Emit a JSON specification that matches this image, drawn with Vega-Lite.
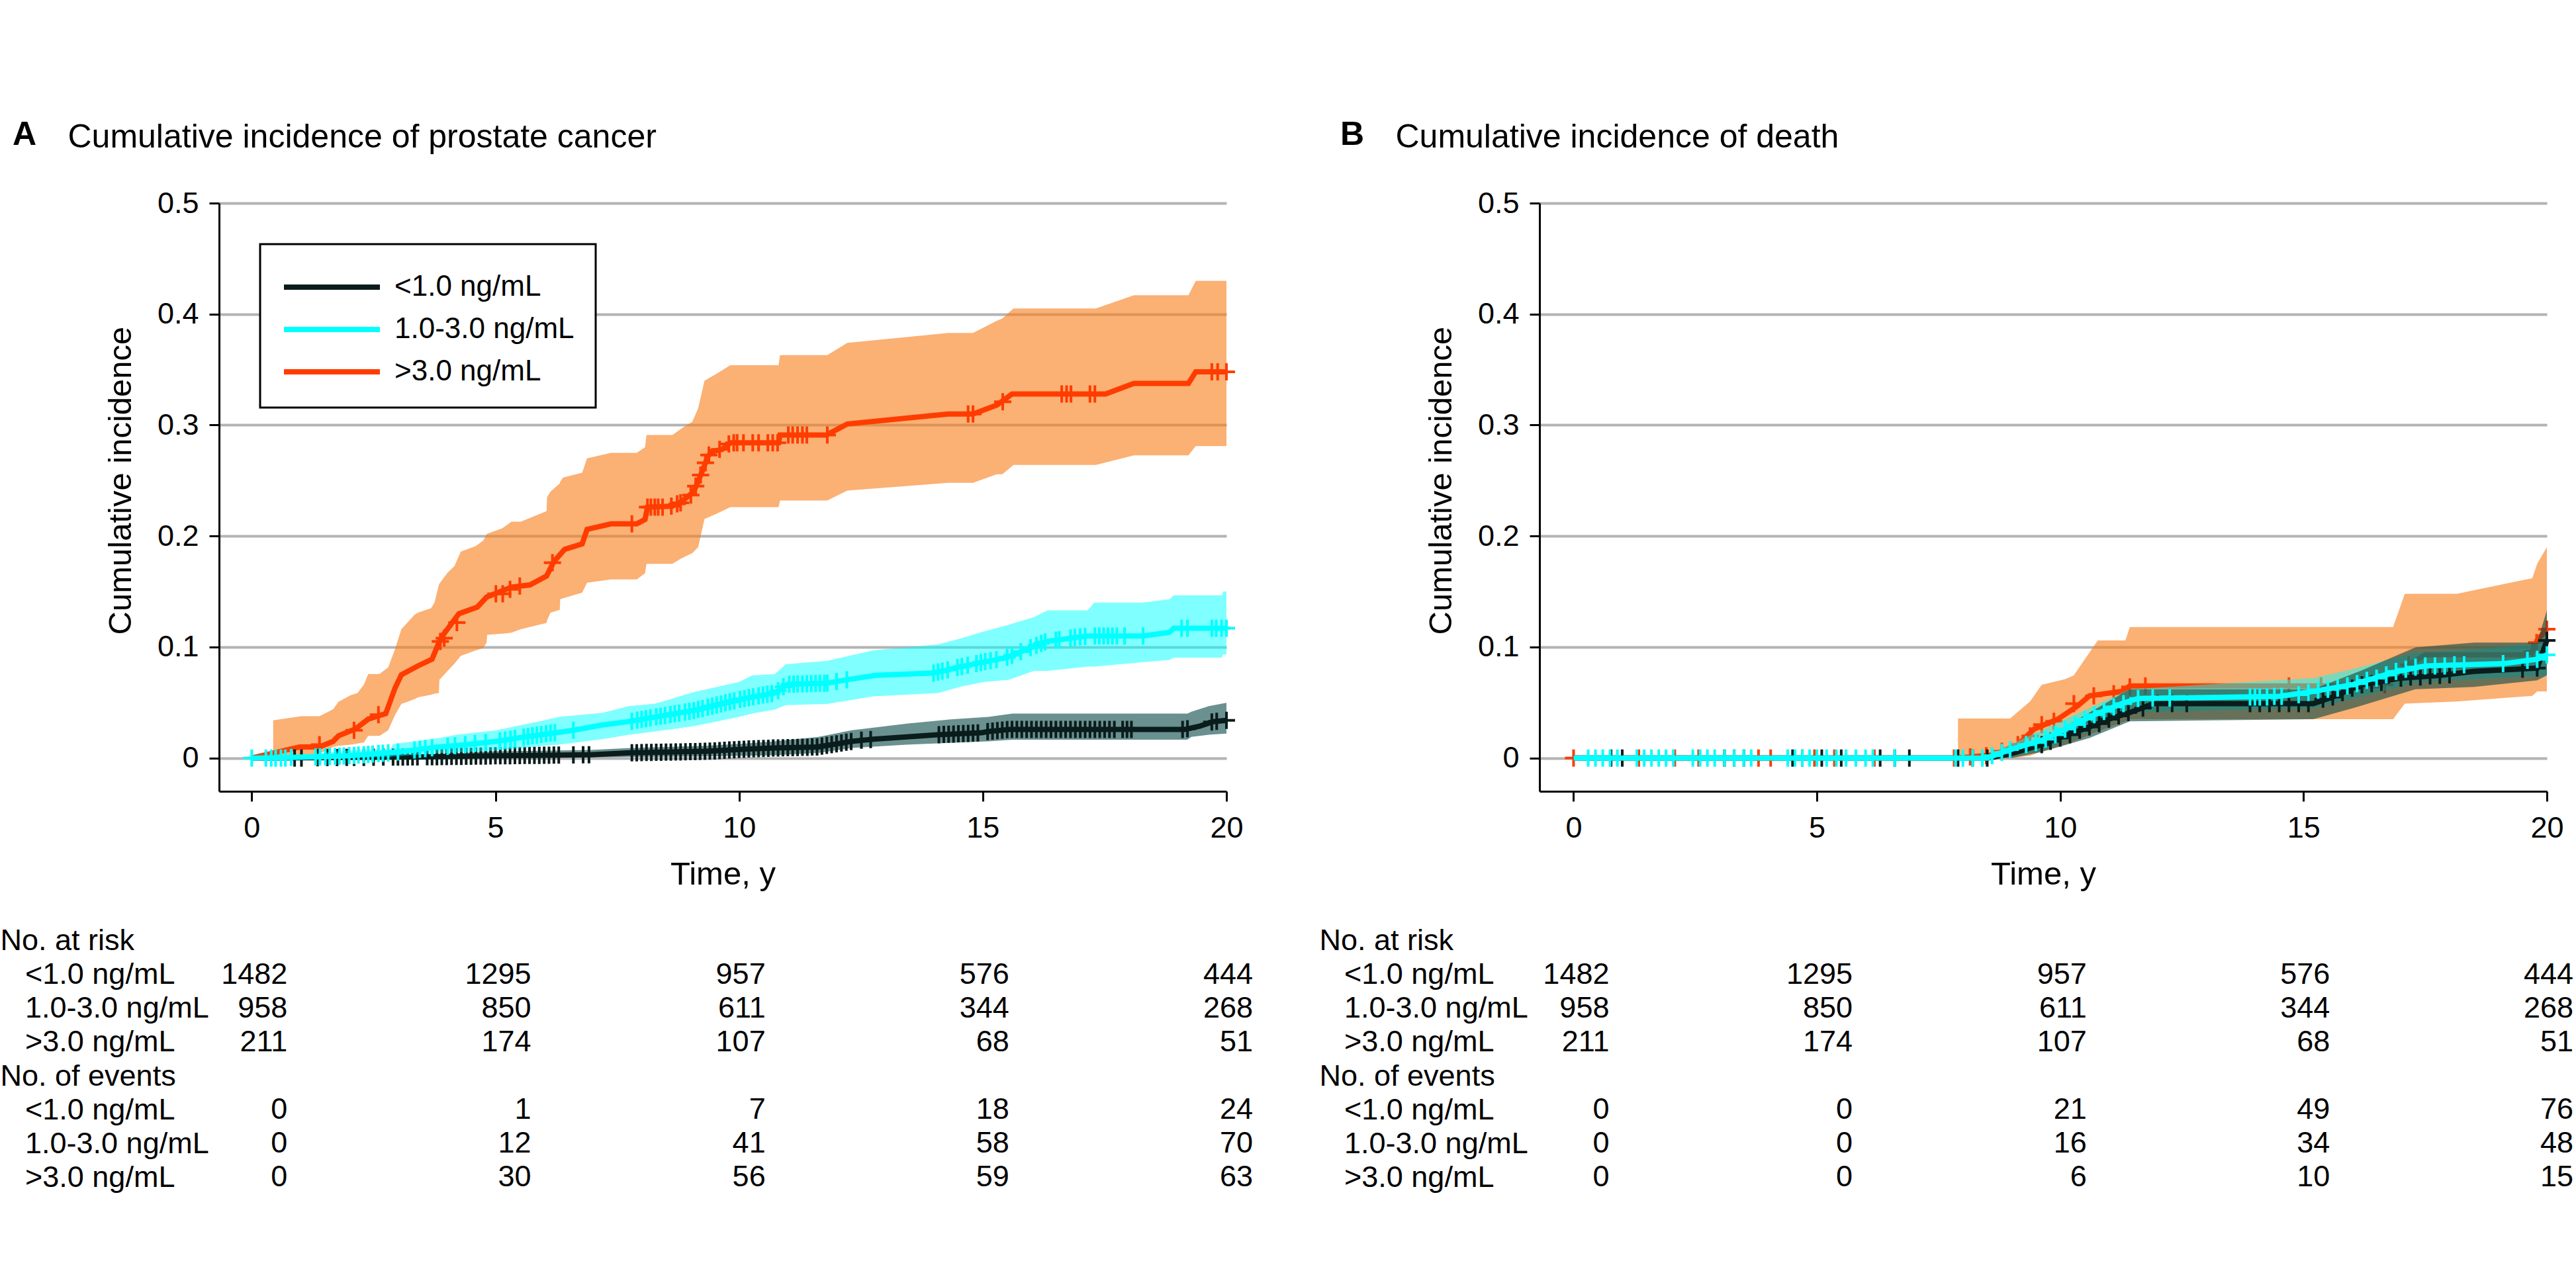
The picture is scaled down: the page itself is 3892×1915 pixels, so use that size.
{
  "$schema": "https://vega.github.io/schema/vega-lite/v6.json",
  "autosize": {"type": "pad"},
  "padding": {"left": 0, "top": 179, "right": 20, "bottom": 20},
  "background": "white",
  "config": {
    "font": "Liberation Sans",
    "view": {"stroke": null},
    "axis": {"domainColor": "black", "domainWidth": 3, "tickColor": "black", "tickWidth": 3, "tickSize": 15, "labelFontSize": 45, "labelColor": "black", "titleFontSize": 49, "titleFontWeight": "normal", "titleColor": "black", "gridColor": "#b3b3b3", "gridWidth": 4, "labelFont": "Liberation Sans", "titleFont": "Liberation Sans"},
    "legend": {"strokeWidth": 3},
    "title": {"font": "Liberation Sans"},
    "text": {"font": "Liberation Sans"}
  },
  "datasets": {
    "lineA": [
      {"g":">3.0 ng/mL","t":0,"v":0},{"g":">3.0 ng/mL","t":0.99,"v":0.01},{"g":">3.0 ng/mL","t":1.39,"v":0.01},{"g":">3.0 ng/mL","t":1.67,"v":0.015},{"g":">3.0 ng/mL","t":1.78,"v":0.02},{"g":">3.0 ng/mL","t":2.12,"v":0.026},{"g":">3.0 ng/mL","t":2.39,"v":0.035},{"g":">3.0 ng/mL","t":2.75,"v":0.04},{"g":">3.0 ng/mL","t":2.94,"v":0.063},{"g":">3.0 ng/mL","t":3.07,"v":0.075},{"g":">3.0 ng/mL","t":3.41,"v":0.083},{"g":">3.0 ng/mL","t":3.7,"v":0.089},{"g":">3.0 ng/mL","t":3.85,"v":0.105},{"g":">3.0 ng/mL","t":3.93,"v":0.111},{"g":">3.0 ng/mL","t":4.25,"v":0.13},{"g":">3.0 ng/mL","t":4.63,"v":0.136},{"g":">3.0 ng/mL","t":4.82,"v":0.145},{"g":">3.0 ng/mL","t":5.33,"v":0.154},{"g":">3.0 ng/mL","t":5.71,"v":0.156},{"g":">3.0 ng/mL","t":6.05,"v":0.164},{"g":">3.0 ng/mL","t":6.2,"v":0.177},{"g":">3.0 ng/mL","t":6.42,"v":0.188},{"g":">3.0 ng/mL","t":6.78,"v":0.193},{"g":">3.0 ng/mL","t":6.88,"v":0.206},{"g":">3.0 ng/mL","t":7.37,"v":0.211},{"g":">3.0 ng/mL","t":7.9,"v":0.211},{"g":">3.0 ng/mL","t":8.07,"v":0.215},{"g":">3.0 ng/mL","t":8.12,"v":0.226},{"g":">3.0 ng/mL","t":8.63,"v":0.227},{"g":">3.0 ng/mL","t":8.82,"v":0.231},{"g":">3.0 ng/mL","t":9.07,"v":0.24},{"g":">3.0 ng/mL","t":9.26,"v":0.26},{"g":">3.0 ng/mL","t":9.35,"v":0.271},{"g":">3.0 ng/mL","t":9.43,"v":0.276},{"g":">3.0 ng/mL","t":9.65,"v":0.278},{"g":">3.0 ng/mL","t":9.82,"v":0.284},{"g":">3.0 ng/mL","t":10.81,"v":0.284},{"g":">3.0 ng/mL","t":10.84,"v":0.291},{"g":">3.0 ng/mL","t":11.79,"v":0.291},{"g":">3.0 ng/mL","t":12.22,"v":0.301},{"g":">3.0 ng/mL","t":14.29,"v":0.31},{"g":">3.0 ng/mL","t":14.8,"v":0.31},{"g":">3.0 ng/mL","t":15.29,"v":0.318},{"g":">3.0 ng/mL","t":15.6,"v":0.328},{"g":">3.0 ng/mL","t":17.52,"v":0.328},{"g":">3.0 ng/mL","t":18.1,"v":0.3375},{"g":">3.0 ng/mL","t":19.22,"v":0.3375},{"g":">3.0 ng/mL","t":19.37,"v":0.348},{"g":">3.0 ng/mL","t":20,"v":0.348},
      {"g":"<1.0 ng/mL","t":0,"v":0},{"g":"<1.0 ng/mL","t":2,"v":0.0005},{"g":"<1.0 ng/mL","t":3.5,"v":0.001},{"g":"<1.0 ng/mL","t":5.02,"v":0.002},{"g":"<1.0 ng/mL","t":6.96,"v":0.003},{"g":"<1.0 ng/mL","t":7.78,"v":0.0047},{"g":"<1.0 ng/mL","t":9.32,"v":0.006},{"g":"<1.0 ng/mL","t":10.14,"v":0.008},{"g":"<1.0 ng/mL","t":10.73,"v":0.009},{"g":"<1.0 ng/mL","t":11.63,"v":0.01},{"g":"<1.0 ng/mL","t":12.31,"v":0.015},{"g":"<1.0 ng/mL","t":12.75,"v":0.0169},{"g":"<1.0 ng/mL","t":13.44,"v":0.019},{"g":"<1.0 ng/mL","t":14.08,"v":0.021},{"g":"<1.0 ng/mL","t":14.98,"v":0.0228},{"g":"<1.0 ng/mL","t":15.1,"v":0.0238},{"g":"<1.0 ng/mL","t":15.55,"v":0.0258},{"g":"<1.0 ng/mL","t":19.15,"v":0.0258},{"g":"<1.0 ng/mL","t":19.46,"v":0.0288},{"g":"<1.0 ng/mL","t":19.73,"v":0.0328},{"g":"<1.0 ng/mL","t":20,"v":0.034},
      {"g":"1.0-3.0 ng/mL","t":0,"v":0},{"g":"1.0-3.0 ng/mL","t":0.8,"v":0.0005},{"g":"1.0-3.0 ng/mL","t":1.3,"v":0.001},{"g":"1.0-3.0 ng/mL","t":2,"v":0.002},{"g":"1.0-3.0 ng/mL","t":2.9,"v":0.005},{"g":"1.0-3.0 ng/mL","t":3.3,"v":0.007},{"g":"1.0-3.0 ng/mL","t":3.84,"v":0.01},{"g":"1.0-3.0 ng/mL","t":4.4,"v":0.012},{"g":"1.0-3.0 ng/mL","t":5.02,"v":0.015},{"g":"1.0-3.0 ng/mL","t":5.6,"v":0.019},{"g":"1.0-3.0 ng/mL","t":6.24,"v":0.0228},{"g":"1.0-3.0 ng/mL","t":6.6,"v":0.025},{"g":"1.0-3.0 ng/mL","t":7.19,"v":0.0298},{"g":"1.0-3.0 ng/mL","t":7.74,"v":0.0328},{"g":"1.0-3.0 ng/mL","t":8.28,"v":0.037},{"g":"1.0-3.0 ng/mL","t":9.09,"v":0.043},{"g":"1.0-3.0 ng/mL","t":10,"v":0.0526},{"g":"1.0-3.0 ng/mL","t":10.73,"v":0.0586},{"g":"1.0-3.0 ng/mL","t":11,"v":0.0665},{"g":"1.0-3.0 ng/mL","t":11.81,"v":0.0675},{"g":"1.0-3.0 ng/mL","t":12.22,"v":0.0705},{"g":"1.0-3.0 ng/mL","t":12.8,"v":0.0745},{"g":"1.0-3.0 ng/mL","t":13.99,"v":0.0765},{"g":"1.0-3.0 ng/mL","t":14.57,"v":0.0824},{"g":"1.0-3.0 ng/mL","t":14.8,"v":0.0845},{"g":"1.0-3.0 ng/mL","t":15.25,"v":0.0884},{"g":"1.0-3.0 ng/mL","t":15.48,"v":0.0904},{"g":"1.0-3.0 ng/mL","t":15.85,"v":0.097},{"g":"1.0-3.0 ng/mL","t":16.3,"v":0.105},{"g":"1.0-3.0 ng/mL","t":17.15,"v":0.11},{"g":"1.0-3.0 ng/mL","t":18.29,"v":0.11},{"g":"1.0-3.0 ng/mL","t":18.83,"v":0.1132},{"g":"1.0-3.0 ng/mL","t":18.92,"v":0.117},{"g":"1.0-3.0 ng/mL","t":20,"v":0.117}
    ],
    "bandA": [
      {"g":"o","t":0.44,"lo":0,"hi":0.034},{"g":"o","t":1.01,"lo":0.002,"hi":0.0377},{"g":"o","t":1.39,"lo":0.004,"hi":0.0377},{"g":"o","t":1.67,"lo":0.01,"hi":0.044},{"g":"o","t":1.78,"lo":0.011,"hi":0.0506},{"g":"o","t":2.03,"lo":0.012,"hi":0.0566},{"g":"o","t":2.17,"lo":0.013,"hi":0.0586},{"g":"o","t":2.3,"lo":0.0139,"hi":0.066},{"g":"o","t":2.39,"lo":0.0199,"hi":0.0757},{"g":"o","t":2.62,"lo":0.0199,"hi":0.0757},{"g":"o","t":2.8,"lo":0.025,"hi":0.0816},{"g":"o","t":2.94,"lo":0.0387,"hi":0.098},{"g":"o","t":3.07,"lo":0.0487,"hi":0.116},{"g":"o","t":3.34,"lo":0.053,"hi":0.129},{"g":"o","t":3.41,"lo":0.0546,"hi":0.131},{"g":"o","t":3.68,"lo":0.057,"hi":0.135},{"g":"o","t":3.75,"lo":0.058,"hi":0.14},{"g":"o","t":3.84,"lo":0.0586,"hi":0.156},{"g":"o","t":3.85,"lo":0.0705,"hi":0.157},{"g":"o","t":4.02,"lo":0.0785,"hi":0.167},{"g":"o","t":4.16,"lo":0.085,"hi":0.173},{"g":"o","t":4.29,"lo":0.092,"hi":0.186},{"g":"o","t":4.6,"lo":0.097,"hi":0.191},{"g":"o","t":4.75,"lo":0.099,"hi":0.196},{"g":"o","t":4.82,"lo":0.104,"hi":0.2016},{"g":"o","t":4.83,"lo":0.111,"hi":0.202},{"g":"o","t":5.14,"lo":0.112,"hi":0.207},{"g":"o","t":5.33,"lo":0.113,"hi":0.213},{"g":"o","t":5.52,"lo":0.116,"hi":0.213},{"g":"o","t":6.05,"lo":0.1217,"hi":0.2225},{"g":"o","t":6.06,"lo":0.124,"hi":0.235},{"g":"o","t":6.13,"lo":0.131,"hi":0.24},{"g":"o","t":6.32,"lo":0.1335,"hi":0.2473},{"g":"o","t":6.33,"lo":0.143,"hi":0.249},{"g":"o","t":6.39,"lo":0.144,"hi":0.2527},{"g":"o","t":6.78,"lo":0.149,"hi":0.257},{"g":"o","t":6.88,"lo":0.158,"hi":0.27},{"g":"o","t":7.37,"lo":0.161,"hi":0.275},{"g":"o","t":7.9,"lo":0.161,"hi":0.275},{"g":"o","t":8.07,"lo":0.1665,"hi":0.28},{"g":"o","t":8.1,"lo":0.175,"hi":0.291},{"g":"o","t":8.63,"lo":0.175,"hi":0.291},{"g":"o","t":8.82,"lo":0.18,"hi":0.297},{"g":"o","t":9.04,"lo":0.1846,"hi":0.303},{"g":"o","t":9.16,"lo":0.19,"hi":0.315},{"g":"o","t":9.29,"lo":0.2154,"hi":0.34},{"g":"o","t":9.53,"lo":0.22,"hi":0.346},{"g":"o","t":9.82,"lo":0.226,"hi":0.354},{"g":"o","t":10.81,"lo":0.226,"hi":0.354},{"g":"o","t":10.84,"lo":0.232,"hi":0.363},{"g":"o","t":11.81,"lo":0.232,"hi":0.363},{"g":"o","t":12.22,"lo":0.241,"hi":0.374},{"g":"o","t":14.29,"lo":0.248,"hi":0.383},{"g":"o","t":14.8,"lo":0.248,"hi":0.383},{"g":"o","t":15.29,"lo":0.2557,"hi":0.394},{"g":"o","t":15.4,"lo":0.2557,"hi":0.396},{"g":"o","t":15.63,"lo":0.264,"hi":0.405},{"g":"o","t":17.32,"lo":0.264,"hi":0.405},{"g":"o","t":18.1,"lo":0.2727,"hi":0.417},{"g":"o","t":19.22,"lo":0.2727,"hi":0.417},{"g":"o","t":19.37,"lo":0.281,"hi":0.43},{"g":"o","t":20,"lo":0.281,"hi":0.43},
      {"g":"c","t":0.5,"lo":0,"hi":0.002},{"g":"c","t":1.3,"lo":0,"hi":0.004},{"g":"c","t":2,"lo":0.0003,"hi":0.007},{"g":"c","t":2.85,"lo":0.001,"hi":0.008},{"g":"c","t":2.9,"lo":0.0015,"hi":0.0125},{"g":"c","t":3.84,"lo":0.0045,"hi":0.018},{"g":"c","t":4.2,"lo":0.005,"hi":0.021},{"g":"c","t":5.02,"lo":0.0066,"hi":0.025},{"g":"c","t":6,"lo":0.011,"hi":0.034},{"g":"c","t":6.3,"lo":0.012,"hi":0.037},{"g":"c","t":7.19,"lo":0.0169,"hi":0.0407},{"g":"c","t":7.74,"lo":0.021,"hi":0.0467},{"g":"c","t":8.28,"lo":0.024,"hi":0.049},{"g":"c","t":9.09,"lo":0.0288,"hi":0.0596},{"g":"c","t":10,"lo":0.037,"hi":0.0685},{"g":"c","t":10.27,"lo":0.04,"hi":0.0745},{"g":"c","t":10.73,"lo":0.0437,"hi":0.0755},{"g":"c","t":10.96,"lo":0.0477,"hi":0.0845},{"g":"c","t":11.81,"lo":0.0487,"hi":0.0876},{"g":"c","t":12.75,"lo":0.0556,"hi":0.097},{"g":"c","t":14.08,"lo":0.0586,"hi":0.1023},{"g":"c","t":14.57,"lo":0.0645,"hi":0.108},{"g":"c","t":15.03,"lo":0.0685,"hi":0.1142},{"g":"c","t":15.53,"lo":0.0705,"hi":0.12},{"g":"c","t":16.05,"lo":0.0785,"hi":0.127},{"g":"c","t":16.33,"lo":0.0785,"hi":0.133},{"g":"c","t":17.15,"lo":0.0824,"hi":0.133},{"g":"c","t":17.29,"lo":0.0824,"hi":0.14},{"g":"c","t":18.29,"lo":0.0864,"hi":0.14},{"g":"c","t":18.83,"lo":0.0884,"hi":0.143},{"g":"c","t":18.92,"lo":0.0904,"hi":0.1466},{"g":"c","t":19.91,"lo":0.0904,"hi":0.1466},{"g":"c","t":19.93,"lo":0.0934,"hi":0.15},{"g":"c","t":20,"lo":0.0934,"hi":0.15},
      {"g":"k","t":0.5,"lo":0,"hi":0.001},{"g":"k","t":2,"lo":0,"hi":0.002},{"g":"k","t":3.5,"lo":0,"hi":0.003},{"g":"k","t":5.02,"lo":0,"hi":0.006},{"g":"k","t":6.96,"lo":0.0005,"hi":0.0073},{"g":"k","t":7.78,"lo":0.001,"hi":0.009},{"g":"k","t":9.32,"lo":0.0015,"hi":0.011},{"g":"k","t":10.14,"lo":0.002,"hi":0.013},{"g":"k","t":10.73,"lo":0.0025,"hi":0.015},{"g":"k","t":11.63,"lo":0.0046,"hi":0.019},{"g":"k","t":12.31,"lo":0.009,"hi":0.025},{"g":"k","t":13.44,"lo":0.012,"hi":0.031},{"g":"k","t":14.35,"lo":0.0137,"hi":0.0348},{"g":"k","t":15.12,"lo":0.015,"hi":0.037},{"g":"k","t":15.61,"lo":0.0165,"hi":0.04},{"g":"k","t":19.2,"lo":0.0165,"hi":0.04},{"g":"k","t":19.28,"lo":0.019,"hi":0.0417},{"g":"k","t":19.64,"lo":0.021,"hi":0.0467},{"g":"k","t":20,"lo":0.022,"hi":0.0497}
    ],
    "censA": [
      {"g":"o","t":1.39,"v":0.012},{"g":"o","t":2.1,"v":0.025},{"g":"o","t":2.6,"v":0.039},{"g":"o","t":3.87,"v":0.105},{"g":"o","t":3.95,"v":0.108},{"g":"o","t":4.21,"v":0.122},{"g":"o","t":5.01,"v":0.148},{"g":"o","t":5.15,"v":0.148},{"g":"o","t":5.3,"v":0.152},{"g":"o","t":5.5,"v":0.155},{"g":"o","t":6.17,"v":0.176},{"g":"o","t":7.8,"v":0.211},{"g":"o","t":8.12,"v":0.226},{"g":"o","t":8.19,"v":0.226},{"g":"o","t":8.27,"v":0.226},{"g":"o","t":8.34,"v":0.226},{"g":"o","t":8.43,"v":0.226},{"g":"o","t":8.61,"v":0.227},{"g":"o","t":8.73,"v":0.229},{"g":"o","t":8.8,"v":0.23},{"g":"o","t":9.01,"v":0.237},{"g":"o","t":9.11,"v":0.245},{"g":"o","t":9.21,"v":0.255},{"g":"o","t":9.31,"v":0.266},{"g":"o","t":9.38,"v":0.273},{"g":"o","t":9.6,"v":0.278},{"g":"o","t":9.79,"v":0.283},{"g":"o","t":9.89,"v":0.284},{"g":"o","t":9.96,"v":0.284},{"g":"o","t":10.09,"v":0.284},{"g":"o","t":10.28,"v":0.284},{"g":"o","t":10.4,"v":0.284},{"g":"o","t":10.59,"v":0.284},{"g":"o","t":10.69,"v":0.284},{"g":"o","t":10.79,"v":0.284},{"g":"o","t":11.01,"v":0.291},{"g":"o","t":11.1,"v":0.291},{"g":"o","t":11.2,"v":0.291},{"g":"o","t":11.3,"v":0.291},{"g":"o","t":11.39,"v":0.291},{"g":"o","t":11.81,"v":0.291},{"g":"o","t":14.7,"v":0.31},{"g":"o","t":14.8,"v":0.31},{"g":"o","t":15.41,"v":0.321},{"g":"o","t":16.62,"v":0.328},{"g":"o","t":16.72,"v":0.328},{"g":"o","t":16.81,"v":0.328},{"g":"o","t":17.2,"v":0.328},{"g":"o","t":17.3,"v":0.328},{"g":"o","t":19.7,"v":0.348},{"g":"o","t":19.82,"v":0.348},{"g":"o","t":20,"v":0.348},
      {"g":"k","t":0.88,"v":0},{"g":"k","t":1.02,"v":0},{"g":"k","t":1.35,"v":0.0003},{"g":"k","t":1.55,"v":0.0004},{"g":"k","t":1.75,"v":0.0004},{"g":"k","t":1.95,"v":0.0005},{"g":"k","t":2.1,"v":0.0005},{"g":"k","t":2.3,"v":0.0006},{"g":"k","t":2.5,"v":0.0007},{"g":"k","t":2.7,"v":0.0008},{"g":"k","t":2.9,"v":0.0008},{"g":"k","t":3,"v":0.0009},{"g":"k","t":3.1,"v":0.0009},{"g":"k","t":3.2,"v":0.001},{"g":"k","t":3.3,"v":0.001},{"g":"k","t":3.4,"v":0.001},{"g":"k","t":3.6,"v":0.0011},{"g":"k","t":3.7,"v":0.0012},{"g":"k","t":3.8,"v":0.0012},{"g":"k","t":3.9,"v":0.0013},{"g":"k","t":4,"v":0.0013},{"g":"k","t":4.1,"v":0.0014},{"g":"k","t":4.2,"v":0.0014},{"g":"k","t":4.3,"v":0.0015},{"g":"k","t":4.4,"v":0.0016},{"g":"k","t":4.5,"v":0.0016},{"g":"k","t":4.6,"v":0.0017},{"g":"k","t":4.7,"v":0.0018},{"g":"k","t":4.8,"v":0.0018},{"g":"k","t":4.9,"v":0.0019},{"g":"k","t":5,"v":0.002},{"g":"k","t":5.1,"v":0.002},{"g":"k","t":5.2,"v":0.0021},{"g":"k","t":5.3,"v":0.0021},{"g":"k","t":5.4,"v":0.0022},{"g":"k","t":5.5,"v":0.0022},{"g":"k","t":5.6,"v":0.0023},{"g":"k","t":5.7,"v":0.0023},{"g":"k","t":5.8,"v":0.0024},{"g":"k","t":5.9,"v":0.0024},{"g":"k","t":6,"v":0.0025},{"g":"k","t":6.1,"v":0.0025},{"g":"k","t":6.2,"v":0.0026},{"g":"k","t":6.3,"v":0.0026},{"g":"k","t":6.6,"v":0.0028},{"g":"k","t":6.8,"v":0.0029},{"g":"k","t":6.92,"v":0.003},{"g":"k","t":7.8,"v":0.0047},{"g":"k","t":7.9,"v":0.0048},{"g":"k","t":8,"v":0.0049},{"g":"k","t":8.1,"v":0.005},{"g":"k","t":8.2,"v":0.005},{"g":"k","t":8.3,"v":0.0051},{"g":"k","t":8.4,"v":0.0052},{"g":"k","t":8.5,"v":0.0053},{"g":"k","t":8.6,"v":0.0053},{"g":"k","t":8.7,"v":0.0054},{"g":"k","t":8.8,"v":0.0055},{"g":"k","t":8.9,"v":0.0056},{"g":"k","t":9,"v":0.0057},{"g":"k","t":9.1,"v":0.0058},{"g":"k","t":9.2,"v":0.0059},{"g":"k","t":9.3,"v":0.006},{"g":"k","t":9.4,"v":0.0062},{"g":"k","t":9.5,"v":0.0064},{"g":"k","t":9.6,"v":0.0067},{"g":"k","t":9.7,"v":0.0069},{"g":"k","t":9.8,"v":0.0072},{"g":"k","t":9.9,"v":0.0074},{"g":"k","t":10,"v":0.0077},{"g":"k","t":10.1,"v":0.0079},{"g":"k","t":10.2,"v":0.0081},{"g":"k","t":10.3,"v":0.0083},{"g":"k","t":10.4,"v":0.0085},{"g":"k","t":10.5,"v":0.0086},{"g":"k","t":10.6,"v":0.0088},{"g":"k","t":10.7,"v":0.009},{"g":"k","t":10.8,"v":0.009},{"g":"k","t":10.9,"v":0.0092},{"g":"k","t":11,"v":0.0093},{"g":"k","t":11.1,"v":0.0094},{"g":"k","t":11.2,"v":0.0095},{"g":"k","t":11.3,"v":0.0096},{"g":"k","t":11.4,"v":0.0097},{"g":"k","t":11.5,"v":0.0099},{"g":"k","t":11.6,"v":0.01},{"g":"k","t":11.7,"v":0.0107},{"g":"k","t":11.8,"v":0.0114},{"g":"k","t":11.9,"v":0.0121},{"g":"k","t":12,"v":0.0128},{"g":"k","t":12.1,"v":0.0135},{"g":"k","t":12.2,"v":0.0142},{"g":"k","t":12.3,"v":0.0149},{"g":"k","t":12.51,"v":0.016},{"g":"k","t":12.7,"v":0.0167},{"g":"k","t":14.1,"v":0.021},{"g":"k","t":14.2,"v":0.0212},{"g":"k","t":14.3,"v":0.0214},{"g":"k","t":14.4,"v":0.0216},{"g":"k","t":14.5,"v":0.0218},{"g":"k","t":14.6,"v":0.022},{"g":"k","t":14.7,"v":0.0222},{"g":"k","t":14.8,"v":0.0224},{"g":"k","t":14.9,"v":0.0226},{"g":"k","t":15.1,"v":0.0238},{"g":"k","t":15.2,"v":0.0242},{"g":"k","t":15.3,"v":0.0247},{"g":"k","t":15.4,"v":0.0251},{"g":"k","t":15.5,"v":0.0256},{"g":"k","t":15.6,"v":0.0258},{"g":"k","t":15.7,"v":0.0258},{"g":"k","t":15.8,"v":0.0258},{"g":"k","t":15.9,"v":0.0258},{"g":"k","t":16,"v":0.0258},{"g":"k","t":16.1,"v":0.0258},{"g":"k","t":16.2,"v":0.0258},{"g":"k","t":16.3,"v":0.0258},{"g":"k","t":16.4,"v":0.0258},{"g":"k","t":16.5,"v":0.0258},{"g":"k","t":16.6,"v":0.0258},{"g":"k","t":16.7,"v":0.0258},{"g":"k","t":16.8,"v":0.0258},{"g":"k","t":16.9,"v":0.0258},{"g":"k","t":17,"v":0.0258},{"g":"k","t":17.1,"v":0.0258},{"g":"k","t":17.2,"v":0.0258},{"g":"k","t":17.3,"v":0.0258},{"g":"k","t":17.4,"v":0.0258},{"g":"k","t":17.5,"v":0.0258},{"g":"k","t":17.6,"v":0.0258},{"g":"k","t":17.7,"v":0.0258},{"g":"k","t":17.87,"v":0.0258},{"g":"k","t":17.96,"v":0.0258},{"g":"k","t":18.05,"v":0.0258},{"g":"k","t":19.1,"v":0.0258},{"g":"k","t":19.2,"v":0.0263},{"g":"k","t":19.7,"v":0.0324},{"g":"k","t":19.8,"v":0.033},{"g":"k","t":20,"v":0.034},
      {"g":"c","t":0,"v":0},{"g":"c","t":0.29,"v":0},{"g":"c","t":0.4,"v":0},{"g":"c","t":0.49,"v":0},{"g":"c","t":0.6,"v":0},{"g":"c","t":0.69,"v":0},{"g":"c","t":0.81,"v":0.0005},{"g":"c","t":1.31,"v":0.001},{"g":"c","t":1.4,"v":0.001},{"g":"c","t":1.51,"v":0.0012},{"g":"c","t":1.6,"v":0.0013},{"g":"c","t":1.71,"v":0.0015},{"g":"c","t":1.8,"v":0.0016},{"g":"c","t":1.89,"v":0.0018},{"g":"c","t":2,"v":0.002},{"g":"c","t":2.1,"v":0.0023},{"g":"c","t":2.19,"v":0.0026},{"g":"c","t":2.3,"v":0.003},{"g":"c","t":2.39,"v":0.0033},{"g":"c","t":2.48,"v":0.0036},{"g":"c","t":2.6,"v":0.004},{"g":"c","t":2.69,"v":0.0043},{"g":"c","t":2.8,"v":0.0046},{"g":"c","t":3,"v":0.0055},{"g":"c","t":3.34,"v":0.0072},{"g":"c","t":3.45,"v":0.0078},{"g":"c","t":3.56,"v":0.0084},{"g":"c","t":3.7,"v":0.0092},{"g":"c","t":4.02,"v":0.0106},{"g":"c","t":4.17,"v":0.0112},{"g":"c","t":4.38,"v":0.012},{"g":"c","t":4.58,"v":0.013},{"g":"c","t":4.8,"v":0.014},{"g":"c","t":5.09,"v":0.0155},{"g":"c","t":5.2,"v":0.0162},{"g":"c","t":5.31,"v":0.017},{"g":"c","t":5.4,"v":0.0176},{"g":"c","t":5.58,"v":0.0188},{"g":"c","t":5.67,"v":0.0195},{"g":"c","t":5.76,"v":0.0201},{"g":"c","t":5.85,"v":0.0207},{"g":"c","t":5.94,"v":0.0213},{"g":"c","t":6.04,"v":0.022},{"g":"c","t":6.13,"v":0.0226},{"g":"c","t":6.22,"v":0.0228},{"g":"c","t":6.6,"v":0.025},{"g":"c","t":7.8,"v":0.0331},{"g":"c","t":7.91,"v":0.0341},{"g":"c","t":8,"v":0.0348},{"g":"c","t":8.09,"v":0.0355},{"g":"c","t":8.18,"v":0.0362},{"g":"c","t":8.3,"v":0.037},{"g":"c","t":8.39,"v":0.0377},{"g":"c","t":8.48,"v":0.0383},{"g":"c","t":8.59,"v":0.0391},{"g":"c","t":8.68,"v":0.0398},{"g":"c","t":8.77,"v":0.0405},{"g":"c","t":8.89,"v":0.0414},{"g":"c","t":8.98,"v":0.0421},{"g":"c","t":9.07,"v":0.0428},{"g":"c","t":9.16,"v":0.0438},{"g":"c","t":9.25,"v":0.0447},{"g":"c","t":9.36,"v":0.0459},{"g":"c","t":9.45,"v":0.0468},{"g":"c","t":9.54,"v":0.0478},{"g":"c","t":9.63,"v":0.0487},{"g":"c","t":9.72,"v":0.0497},{"g":"c","t":9.81,"v":0.0506},{"g":"c","t":9.9,"v":0.0516},{"g":"c","t":10.02,"v":0.0528},{"g":"c","t":10.11,"v":0.0535},{"g":"c","t":10.2,"v":0.0543},{"g":"c","t":10.29,"v":0.0551},{"g":"c","t":10.4,"v":0.056},{"g":"c","t":10.49,"v":0.0567},{"g":"c","t":10.58,"v":0.0575},{"g":"c","t":10.67,"v":0.0581},{"g":"c","t":10.8,"v":0.0606},{"g":"c","t":10.91,"v":0.0642},{"g":"c","t":11.03,"v":0.0665},{"g":"c","t":11.12,"v":0.0666},{"g":"c","t":11.2,"v":0.0667},{"g":"c","t":11.3,"v":0.0668},{"g":"c","t":11.39,"v":0.0669},{"g":"c","t":11.48,"v":0.067},{"g":"c","t":11.57,"v":0.0672},{"g":"c","t":11.66,"v":0.0673},{"g":"c","t":11.75,"v":0.0674},{"g":"c","t":11.81,"v":0.0675},{"g":"c","t":12,"v":0.069},{"g":"c","t":12.21,"v":0.0705},{"g":"c","t":13.99,"v":0.0765},{"g":"c","t":14.08,"v":0.0774},{"g":"c","t":14.17,"v":0.0783},{"g":"c","t":14.28,"v":0.0794},{"g":"c","t":14.48,"v":0.0815},{"g":"c","t":14.57,"v":0.0824},{"g":"c","t":14.69,"v":0.0835},{"g":"c","t":14.87,"v":0.0851},{"g":"c","t":14.96,"v":0.0859},{"g":"c","t":15.05,"v":0.0868},{"g":"c","t":15.16,"v":0.0877},{"g":"c","t":15.28,"v":0.0887},{"g":"c","t":15.5,"v":0.0908},{"g":"c","t":15.6,"v":0.0925},{"g":"c","t":15.78,"v":0.0958},{"g":"c","t":15.98,"v":0.0993},{"g":"c","t":16.1,"v":0.1015},{"g":"c","t":16.2,"v":0.1033},{"g":"c","t":16.28,"v":0.1046},{"g":"c","t":16.5,"v":0.1063},{"g":"c","t":16.57,"v":0.1067},{"g":"c","t":16.8,"v":0.1081},{"g":"c","t":16.89,"v":0.1086},{"g":"c","t":17,"v":0.1092},{"g":"c","t":17.1,"v":0.1097},{"g":"c","t":17.3,"v":0.11},{"g":"c","t":17.39,"v":0.11},{"g":"c","t":17.48,"v":0.11},{"g":"c","t":17.57,"v":0.11},{"g":"c","t":17.66,"v":0.11},{"g":"c","t":17.75,"v":0.11},{"g":"c","t":17.91,"v":0.11},{"g":"c","t":18.29,"v":0.11},{"g":"c","t":19.08,"v":0.117},{"g":"c","t":19.2,"v":0.117},{"g":"c","t":19.7,"v":0.117},{"g":"c","t":19.79,"v":0.117},{"g":"c","t":19.9,"v":0.117},{"g":"c","t":20,"v":0.117}
    ],
    "lineB": [
      {"g":"o","t":0,"v":0},{"g":"o","t":7.9,"v":0},{"g":"o","t":8.64,"v":0.003},{"g":"o","t":9.13,"v":0.012},{"g":"o","t":9.46,"v":0.026},{"g":"o","t":9.95,"v":0.035},{"g":"o","t":10.36,"v":0.047},{"g":"o","t":10.6,"v":0.056},{"g":"o","t":11.26,"v":0.06},{"g":"o","t":11.43,"v":0.065},{"g":"o","t":16.6,"v":0.065},{"g":"o","t":17.2,"v":0.085},{"g":"o","t":17.5,"v":0.093},{"g":"o","t":19.5,"v":0.093},{"g":"o","t":19.7,"v":0.096},{"g":"o","t":19.8,"v":0.106},{"g":"o","t":20,"v":0.116},
      {"g":"k","t":0,"v":0},{"g":"k","t":8.5,"v":0},{"g":"k","t":8.64,"v":0.001},{"g":"k","t":9,"v":0.004},{"g":"k","t":9.62,"v":0.012},{"g":"k","t":10.1,"v":0.02},{"g":"k","t":10.6,"v":0.028},{"g":"k","t":11,"v":0.035},{"g":"k","t":11.43,"v":0.041},{"g":"k","t":11.92,"v":0.049},{"g":"k","t":15.2,"v":0.049},{"g":"k","t":15.6,"v":0.055},{"g":"k","t":16.18,"v":0.066},{"g":"k","t":17,"v":0.072},{"g":"k","t":17.82,"v":0.0745},{"g":"k","t":18.5,"v":0.078},{"g":"k","t":19.8,"v":0.081},{"g":"k","t":20,"v":0.106},
      {"g":"c","t":0,"v":0},{"g":"c","t":8.5,"v":0},{"g":"c","t":8.97,"v":0.0075},{"g":"c","t":9.62,"v":0.016},{"g":"c","t":10.1,"v":0.026},{"g":"c","t":10.6,"v":0.037},{"g":"c","t":11.26,"v":0.049},{"g":"c","t":11.6,"v":0.0536},{"g":"c","t":14.5,"v":0.0556},{"g":"c","t":15.2,"v":0.06},{"g":"c","t":16,"v":0.066},{"g":"c","t":16.8,"v":0.0766},{"g":"c","t":17.5,"v":0.083},{"g":"c","t":19.1,"v":0.085},{"g":"c","t":19.8,"v":0.089},{"g":"c","t":20,"v":0.093}
    ],
    "bandB": [
      {"g":"o","t":7.9,"lo":0,"hi":0.0356},{"g":"o","t":8.97,"lo":0,"hi":0.0356},{"g":"o","t":9.38,"lo":0.002,"hi":0.051},{"g":"o","t":9.62,"lo":0.006,"hi":0.066},{"g":"o","t":10.1,"lo":0.012,"hi":0.071},{"g":"o","t":10.28,"lo":0.015,"hi":0.0745},{"g":"o","t":10.77,"lo":0.024,"hi":0.106},{"g":"o","t":11.34,"lo":0.033,"hi":0.106},{"g":"o","t":11.43,"lo":0.035,"hi":0.118},{"g":"o","t":16.84,"lo":0.035,"hi":0.118},{"g":"o","t":17.08,"lo":0.049,"hi":0.148},{"g":"o","t":18.15,"lo":0.051,"hi":0.148},{"g":"o","t":19.7,"lo":0.056,"hi":0.162},{"g":"o","t":19.8,"lo":0.06,"hi":0.175},{"g":"o","t":20,"lo":0.06,"hi":0.19},
      {"g":"k","t":8.5,"lo":0,"hi":0.002},{"g":"k","t":9,"lo":0,"hi":0.008},{"g":"k","t":9.62,"lo":0.0054,"hi":0.016},{"g":"k","t":10.6,"lo":0.018,"hi":0.041},{"g":"k","t":11.43,"lo":0.033,"hi":0.062},{"g":"k","t":15.2,"lo":0.035,"hi":0.062},{"g":"k","t":16.18,"lo":0.047,"hi":0.0787},{"g":"k","t":17.3,"lo":0.062,"hi":0.0996},{"g":"k","t":18.5,"lo":0.064,"hi":0.104},{"g":"k","t":19.8,"lo":0.07,"hi":0.104},{"g":"k","t":20,"lo":0.0745,"hi":0.133},
      {"g":"c","t":8.5,"lo":0,"hi":0.002},{"g":"c","t":8.97,"lo":0.001,"hi":0.012},{"g":"c","t":9.62,"lo":0.007,"hi":0.025},{"g":"c","t":10.6,"lo":0.024,"hi":0.045},{"g":"c","t":11.43,"lo":0.041,"hi":0.062},{"g":"c","t":15.2,"lo":0.045,"hi":0.072},{"g":"c","t":16,"lo":0.053,"hi":0.08},{"g":"c","t":17.3,"lo":0.068,"hi":0.095},{"g":"c","t":18.5,"lo":0.071,"hi":0.098},{"g":"c","t":19.8,"lo":0.074,"hi":0.103},{"g":"c","t":20,"lo":0.0745,"hi":0.11}
    ],
    "censB": [
      {"g":"o","t":0,"v":0},{"g":"o","t":1.34,"v":0},{"g":"o","t":2.08,"v":0},{"g":"o","t":2.57,"v":0},{"g":"o","t":3.8,"v":0},{"g":"o","t":4.05,"v":0},{"g":"o","t":4.95,"v":0},{"g":"o","t":5.36,"v":0},{"g":"o","t":6.18,"v":0},{"g":"o","t":7.82,"v":0},{"g":"o","t":8.15,"v":0.001},{"g":"o","t":8.48,"v":0.002},{"g":"o","t":8.8,"v":0.006},{"g":"o","t":9.13,"v":0.012},{"g":"o","t":9.38,"v":0.02},{"g":"o","t":9.62,"v":0.03},{"g":"o","t":9.87,"v":0.033},{"g":"o","t":10.28,"v":0.049},{"g":"o","t":10.69,"v":0.056},{"g":"o","t":11.1,"v":0.058},{"g":"o","t":11.43,"v":0.064},{"g":"o","t":11.75,"v":0.065},{"g":"o","t":14.7,"v":0.065},{"g":"o","t":15.36,"v":0.065},{"g":"o","t":16.67,"v":0.066},{"g":"o","t":17.16,"v":0.084},{"g":"o","t":19.7,"v":0.096},{"g":"o","t":19.79,"v":0.104},{"g":"o","t":20,"v":0.116},
      {"g":"k","t":0.77,"v":0},{"g":"k","t":1,"v":0},{"g":"k","t":3.1,"v":0},{"g":"k","t":3.3,"v":0},{"g":"k","t":3.5,"v":0},{"g":"k","t":4.5,"v":0},{"g":"k","t":4.7,"v":0},{"g":"k","t":5.1,"v":0},{"g":"k","t":5.5,"v":0},{"g":"k","t":6.3,"v":0},{"g":"k","t":6.6,"v":0},{"g":"k","t":6.9,"v":0},{"g":"k","t":7.9,"v":0},{"g":"k","t":8.2,"v":0},{"g":"k","t":8.5,"v":0},{"g":"k","t":9.62,"v":0.012},{"g":"k","t":9.8,"v":0.015},{"g":"k","t":10,"v":0.018},{"g":"k","t":10.2,"v":0.021},{"g":"k","t":10.4,"v":0.025},{"g":"k","t":10.6,"v":0.028},{"g":"k","t":10.8,"v":0.031},{"g":"k","t":11,"v":0.035},{"g":"k","t":11.2,"v":0.038},{"g":"k","t":11.4,"v":0.041},{"g":"k","t":11.7,"v":0.045},{"g":"k","t":12,"v":0.049},{"g":"k","t":12.3,"v":0.049},{"g":"k","t":12.6,"v":0.049},{"g":"k","t":13.9,"v":0.049},{"g":"k","t":14.1,"v":0.049},{"g":"k","t":14.3,"v":0.049},{"g":"k","t":14.5,"v":0.049},{"g":"k","t":14.7,"v":0.049},{"g":"k","t":14.9,"v":0.049},{"g":"k","t":15.1,"v":0.049},{"g":"k","t":15.4,"v":0.053},{"g":"k","t":15.6,"v":0.055},{"g":"k","t":15.8,"v":0.059},{"g":"k","t":16,"v":0.063},{"g":"k","t":16.2,"v":0.066},{"g":"k","t":16.4,"v":0.067},{"g":"k","t":16.6,"v":0.068},{"g":"k","t":17,"v":0.072},{"g":"k","t":17.2,"v":0.073},{"g":"k","t":17.4,"v":0.073},{"g":"k","t":17.6,"v":0.074},{"g":"k","t":17.8,"v":0.0745},{"g":"k","t":18,"v":0.075},{"g":"k","t":19.5,"v":0.08},{"g":"k","t":19.8,"v":0.081},{"g":"k","t":20,"v":0.106},
      {"g":"c","t":0.3,"v":0},{"g":"c","t":0.45,"v":0},{"g":"c","t":0.6,"v":0},{"g":"c","t":0.75,"v":0},{"g":"c","t":0.9,"v":0},{"g":"c","t":1.3,"v":0},{"g":"c","t":1.45,"v":0},{"g":"c","t":1.6,"v":0},{"g":"c","t":1.75,"v":0},{"g":"c","t":1.9,"v":0},{"g":"c","t":2.05,"v":0},{"g":"c","t":2.45,"v":0},{"g":"c","t":2.6,"v":0},{"g":"c","t":2.75,"v":0},{"g":"c","t":2.9,"v":0},{"g":"c","t":3.1,"v":0},{"g":"c","t":3.3,"v":0},{"g":"c","t":3.5,"v":0},{"g":"c","t":3.65,"v":0},{"g":"c","t":4.4,"v":0},{"g":"c","t":4.55,"v":0},{"g":"c","t":4.7,"v":0},{"g":"c","t":4.85,"v":0},{"g":"c","t":5,"v":0},{"g":"c","t":5.2,"v":0},{"g":"c","t":5.4,"v":0},{"g":"c","t":5.6,"v":0},{"g":"c","t":5.8,"v":0},{"g":"c","t":6,"v":0},{"g":"c","t":6.15,"v":0},{"g":"c","t":6.6,"v":0},{"g":"c","t":7.85,"v":0},{"g":"c","t":8,"v":0},{"g":"c","t":8.2,"v":0},{"g":"c","t":8.4,"v":0},{"g":"c","t":8.6,"v":0.002},{"g":"c","t":8.8,"v":0.005},{"g":"c","t":8.97,"v":0.0075},{"g":"c","t":9.3,"v":0.012},{"g":"c","t":9.5,"v":0.014},{"g":"c","t":9.7,"v":0.017},{"g":"c","t":9.9,"v":0.021},{"g":"c","t":10.1,"v":0.026},{"g":"c","t":10.3,"v":0.03},{"g":"c","t":10.5,"v":0.035},{"g":"c","t":10.7,"v":0.039},{"g":"c","t":10.9,"v":0.042},{"g":"c","t":11.1,"v":0.046},{"g":"c","t":11.3,"v":0.049},{"g":"c","t":11.6,"v":0.0536},{"g":"c","t":11.9,"v":0.054},{"g":"c","t":12.25,"v":0.054},{"g":"c","t":13.9,"v":0.055},{"g":"c","t":14,"v":0.055},{"g":"c","t":14.1,"v":0.055},{"g":"c","t":14.25,"v":0.055},{"g":"c","t":14.4,"v":0.0555},{"g":"c","t":14.55,"v":0.0556},{"g":"c","t":14.9,"v":0.057},{"g":"c","t":15.1,"v":0.059},{"g":"c","t":15.3,"v":0.061},{"g":"c","t":15.5,"v":0.062},{"g":"c","t":15.7,"v":0.063},{"g":"c","t":15.9,"v":0.065},{"g":"c","t":16.1,"v":0.067},{"g":"c","t":16.3,"v":0.07},{"g":"c","t":16.5,"v":0.072},{"g":"c","t":16.7,"v":0.075},{"g":"c","t":16.9,"v":0.078},{"g":"c","t":17.1,"v":0.08},{"g":"c","t":17.3,"v":0.082},{"g":"c","t":17.5,"v":0.083},{"g":"c","t":17.7,"v":0.083},{"g":"c","t":17.9,"v":0.083},{"g":"c","t":18.1,"v":0.084},{"g":"c","t":18.3,"v":0.084},{"g":"c","t":19.1,"v":0.085},{"g":"c","t":19.6,"v":0.088},{"g":"c","t":19.8,"v":0.089},{"g":"c","t":20,"v":0.093}
    ],
    "table": [
      {"p":"A","row":"r|<1.0 ng/mL","t":0,"n":1482},{"p":"A","row":"r|<1.0 ng/mL","t":5,"n":1295},{"p":"A","row":"r|<1.0 ng/mL","t":10,"n":957},{"p":"A","row":"r|<1.0 ng/mL","t":15,"n":576},{"p":"A","row":"r|<1.0 ng/mL","t":20,"n":444},
      {"p":"A","row":"r|1.0-3.0 ng/mL","t":0,"n":958},{"p":"A","row":"r|1.0-3.0 ng/mL","t":5,"n":850},{"p":"A","row":"r|1.0-3.0 ng/mL","t":10,"n":611},{"p":"A","row":"r|1.0-3.0 ng/mL","t":15,"n":344},{"p":"A","row":"r|1.0-3.0 ng/mL","t":20,"n":268},
      {"p":"A","row":"r|>3.0 ng/mL","t":0,"n":211},{"p":"A","row":"r|>3.0 ng/mL","t":5,"n":174},{"p":"A","row":"r|>3.0 ng/mL","t":10,"n":107},{"p":"A","row":"r|>3.0 ng/mL","t":15,"n":68},{"p":"A","row":"r|>3.0 ng/mL","t":20,"n":51},
      {"p":"A","row":"e|<1.0 ng/mL","t":0,"n":0},{"p":"A","row":"e|<1.0 ng/mL","t":5,"n":1},{"p":"A","row":"e|<1.0 ng/mL","t":10,"n":7},{"p":"A","row":"e|<1.0 ng/mL","t":15,"n":18},{"p":"A","row":"e|<1.0 ng/mL","t":20,"n":24},
      {"p":"A","row":"e|1.0-3.0 ng/mL","t":0,"n":0},{"p":"A","row":"e|1.0-3.0 ng/mL","t":5,"n":12},{"p":"A","row":"e|1.0-3.0 ng/mL","t":10,"n":41},{"p":"A","row":"e|1.0-3.0 ng/mL","t":15,"n":58},{"p":"A","row":"e|1.0-3.0 ng/mL","t":20,"n":70},
      {"p":"A","row":"e|>3.0 ng/mL","t":0,"n":0},{"p":"A","row":"e|>3.0 ng/mL","t":5,"n":30},{"p":"A","row":"e|>3.0 ng/mL","t":10,"n":56},{"p":"A","row":"e|>3.0 ng/mL","t":15,"n":59},{"p":"A","row":"e|>3.0 ng/mL","t":20,"n":63},
      {"p":"B","row":"r|<1.0 ng/mL","t":0,"n":1482},{"p":"B","row":"r|<1.0 ng/mL","t":5,"n":1295},{"p":"B","row":"r|<1.0 ng/mL","t":10,"n":957},{"p":"B","row":"r|<1.0 ng/mL","t":15,"n":576},{"p":"B","row":"r|<1.0 ng/mL","t":20,"n":444},
      {"p":"B","row":"r|1.0-3.0 ng/mL","t":0,"n":958},{"p":"B","row":"r|1.0-3.0 ng/mL","t":5,"n":850},{"p":"B","row":"r|1.0-3.0 ng/mL","t":10,"n":611},{"p":"B","row":"r|1.0-3.0 ng/mL","t":15,"n":344},{"p":"B","row":"r|1.0-3.0 ng/mL","t":20,"n":268},
      {"p":"B","row":"r|>3.0 ng/mL","t":0,"n":211},{"p":"B","row":"r|>3.0 ng/mL","t":5,"n":174},{"p":"B","row":"r|>3.0 ng/mL","t":10,"n":107},{"p":"B","row":"r|>3.0 ng/mL","t":15,"n":68},{"p":"B","row":"r|>3.0 ng/mL","t":20,"n":51},
      {"p":"B","row":"e|<1.0 ng/mL","t":0,"n":0},{"p":"B","row":"e|<1.0 ng/mL","t":5,"n":0},{"p":"B","row":"e|<1.0 ng/mL","t":10,"n":21},{"p":"B","row":"e|<1.0 ng/mL","t":15,"n":49},{"p":"B","row":"e|<1.0 ng/mL","t":20,"n":76},
      {"p":"B","row":"e|1.0-3.0 ng/mL","t":0,"n":0},{"p":"B","row":"e|1.0-3.0 ng/mL","t":5,"n":0},{"p":"B","row":"e|1.0-3.0 ng/mL","t":10,"n":16},{"p":"B","row":"e|1.0-3.0 ng/mL","t":15,"n":34},{"p":"B","row":"e|1.0-3.0 ng/mL","t":20,"n":48},
      {"p":"B","row":"e|>3.0 ng/mL","t":0,"n":0},{"p":"B","row":"e|>3.0 ng/mL","t":5,"n":0},{"p":"B","row":"e|>3.0 ng/mL","t":10,"n":6},{"p":"B","row":"e|>3.0 ng/mL","t":15,"n":10},{"p":"B","row":"e|>3.0 ng/mL","t":20,"n":15}
    ]
  },
  "columns": 2,
  "bounds": "flush",
  "spacing": {"row": 200, "column": 473},
  "resolve": {"scale": {"x": "independent", "y": "independent"}},
  "concat": [
    {
      "width": 1522, "height": 889,
      "title": {"text": "A", "anchor": "start", "frame": "group", "dx": -312, "offset": -47, "fontSize": 50, "fontWeight": "bold", "color": "black"},
      "resolve": {"axis": {"x": "independent"}},
      "layer": [
        {"data": {"name": "bandA"}, "transform": [{"filter": "datum.g === 'o'"}], "mark": {"type": "area", "color": "#f87b17", "opacity": 0.6}, "encoding": {"x": {"field": "t", "type": "quantitative", "scale": {"domain": [-0.67, 20], "nice": false, "zero": false}, "axis": {"values": [0, 5, 10, 15, 20], "title": "Time, y", "grid": false, "labelFlush": false, "labelPadding": 18, "titlePadding": 23}}, "y": {"field": "hi", "type": "quantitative", "scale": {"domain": [-0.03, 0.5], "nice": false, "zero": false}, "axis": {"values": [0, 0.1, 0.2, 0.3, 0.4, 0.5], "format": "~g", "grid": true, "title": "Cumulative incidence", "labelPadding": 16, "titlePadding": 30, "titleY": 419}}, "y2": {"field": "lo"}}},
        {"data": {"name": "lineA"}, "transform": [{"filter": "datum.g === '>3.0 ng/mL'"}], "mark": {"type": "line", "strokeWidth": 8}, "encoding": {"x": {"field": "t", "type": "quantitative", "axis": {"orient": "top", "domain": false, "ticks": false, "labels": false, "grid": false, "title": "Cumulative incidence of prostate cancer", "titleFontSize": 50, "titleFontWeight": "normal", "titleAlign": "left", "titleAnchor": "start", "titleBaseline": "alphabetic", "titleX": -229, "titleY": -85}}, "y": {"field": "v", "type": "quantitative", "title": "Cumulative incidence"}, "stroke": {"field": "g", "type": "nominal", "scale": {"domain": ["<1.0 ng/mL", "1.0-3.0 ng/mL", ">3.0 ng/mL"], "range": ["#0a1c1c", "#00ffff", "#ff3c00"]}, "legend": {"title": null, "orient": "top-left", "offset": 62, "strokeColor": "black", "fillColor": "white", "padding": 32, "symbolType": "M-1,0H4", "symbolSize": 3364, "symbolStrokeWidth": 8, "labelFontSize": 44, "labelOffset": 105, "rowPadding": 9, "labelColor": "black", "labelFont": "Liberation Sans", "labelLimit": 0}}}},
        {"data": {"name": "censA"}, "transform": [{"filter": "datum.g === 'o'"}], "mark": {"type": "point", "shape": "M-1,0H1M0,-1V1", "filled": false, "size": 676, "strokeWidth": 4, "color": "#ff3c00", "opacity": 1}, "encoding": {"x": {"field": "t", "type": "quantitative", "axis": null}, "y": {"field": "v", "type": "quantitative", "title": "Cumulative incidence"}}},
        {"data": {"name": "bandA"}, "transform": [{"filter": "datum.g === 'k'"}], "mark": {"type": "area", "color": "#074844", "opacity": 0.6}, "encoding": {"x": {"field": "t", "type": "quantitative", "axis": null}, "y": {"field": "hi", "type": "quantitative", "title": "Cumulative incidence"}, "y2": {"field": "lo"}}},
        {"data": {"name": "lineA"}, "transform": [{"filter": "datum.g === '<1.0 ng/mL'"}], "mark": {"type": "line", "strokeWidth": 8}, "encoding": {"x": {"field": "t", "type": "quantitative", "axis": null}, "y": {"field": "v", "type": "quantitative", "title": "Cumulative incidence"}, "stroke": {"field": "g", "type": "nominal", "scale": {"domain": ["<1.0 ng/mL", "1.0-3.0 ng/mL", ">3.0 ng/mL"], "range": ["#0a1c1c", "#00ffff", "#ff3c00"]}}}},
        {"data": {"name": "censA"}, "transform": [{"filter": "datum.g === 'k'"}], "mark": {"type": "point", "shape": "M-1,0H1M0,-1V1", "filled": false, "size": 676, "strokeWidth": 4, "color": "#0a1c1c", "opacity": 1}, "encoding": {"x": {"field": "t", "type": "quantitative", "axis": null}, "y": {"field": "v", "type": "quantitative", "title": "Cumulative incidence"}}},
        {"data": {"name": "bandA"}, "transform": [{"filter": "datum.g === 'c'"}], "mark": {"type": "area", "color": "#00ffff", "opacity": 0.5}, "encoding": {"x": {"field": "t", "type": "quantitative", "axis": null}, "y": {"field": "hi", "type": "quantitative", "title": "Cumulative incidence"}, "y2": {"field": "lo"}}},
        {"data": {"name": "lineA"}, "transform": [{"filter": "datum.g === '1.0-3.0 ng/mL'"}], "mark": {"type": "line", "strokeWidth": 8}, "encoding": {"x": {"field": "t", "type": "quantitative", "axis": null}, "y": {"field": "v", "type": "quantitative", "title": "Cumulative incidence"}, "stroke": {"field": "g", "type": "nominal", "scale": {"domain": ["<1.0 ng/mL", "1.0-3.0 ng/mL", ">3.0 ng/mL"], "range": ["#0a1c1c", "#00ffff", "#ff3c00"]}}}},
        {"data": {"name": "censA"}, "transform": [{"filter": "datum.g === 'c'"}], "mark": {"type": "point", "shape": "M-1,0H1M0,-1V1", "filled": false, "size": 676, "strokeWidth": 4, "color": "#00ffff", "opacity": 1}, "encoding": {"x": {"field": "t", "type": "quantitative", "axis": null}, "y": {"field": "v", "type": "quantitative", "title": "Cumulative incidence"}}}
      ]
    },
    {
      "width": 1522, "height": 889,
      "title": {"text": "B", "anchor": "start", "frame": "group", "dx": -301, "offset": -47, "fontSize": 50, "fontWeight": "bold", "color": "black"},
      "resolve": {"axis": {"x": "independent"}},
      "layer": [
        {"data": {"name": "bandB"}, "transform": [{"filter": "datum.g === 'o'"}], "mark": {"type": "area", "color": "#f87b17", "opacity": 0.6}, "encoding": {"x": {"field": "t", "type": "quantitative", "scale": {"domain": [-0.7, 20], "nice": false, "zero": false}, "axis": {"values": [0, 5, 10, 15, 20], "title": "Time, y", "grid": false, "labelFlush": false, "labelPadding": 18, "titlePadding": 23}}, "y": {"field": "hi", "type": "quantitative", "scale": {"domain": [-0.03, 0.5], "nice": false, "zero": false}, "axis": {"values": [0, 0.1, 0.2, 0.3, 0.4, 0.5], "format": "~g", "grid": true, "title": "Cumulative incidence", "labelPadding": 16, "titlePadding": 30, "titleY": 419}}, "y2": {"field": "lo"}}},
        {"data": {"name": "lineB"}, "transform": [{"filter": "datum.g === 'o'"}], "mark": {"type": "line", "strokeWidth": 8, "color": "#ff3c00"}, "encoding": {"x": {"field": "t", "type": "quantitative", "axis": {"orient": "top", "domain": false, "ticks": false, "labels": false, "grid": false, "title": "Cumulative incidence of death", "titleFontSize": 50, "titleFontWeight": "normal", "titleAlign": "left", "titleAnchor": "start", "titleBaseline": "alphabetic", "titleX": -218, "titleY": -85}}, "y": {"field": "v", "type": "quantitative", "title": "Cumulative incidence"}}},
        {"data": {"name": "censB"}, "transform": [{"filter": "datum.g === 'o'"}], "mark": {"type": "point", "shape": "M-1,0H1M0,-1V1", "filled": false, "size": 676, "strokeWidth": 4, "color": "#ff3c00", "opacity": 1}, "encoding": {"x": {"field": "t", "type": "quantitative", "axis": null}, "y": {"field": "v", "type": "quantitative", "title": "Cumulative incidence"}}},
        {"data": {"name": "bandB"}, "transform": [{"filter": "datum.g === 'c'"}], "mark": {"type": "area", "color": "#00ffff", "opacity": 0.5}, "encoding": {"x": {"field": "t", "type": "quantitative", "axis": null}, "y": {"field": "hi", "type": "quantitative", "title": "Cumulative incidence"}, "y2": {"field": "lo"}}},
        {"data": {"name": "bandB"}, "transform": [{"filter": "datum.g === 'k'"}], "mark": {"type": "area", "color": "#074844", "opacity": 0.6}, "encoding": {"x": {"field": "t", "type": "quantitative", "axis": null}, "y": {"field": "hi", "type": "quantitative", "title": "Cumulative incidence"}, "y2": {"field": "lo"}}},
        {"data": {"name": "lineB"}, "transform": [{"filter": "datum.g === 'k'"}], "mark": {"type": "line", "strokeWidth": 8, "color": "#0a1c1c"}, "encoding": {"x": {"field": "t", "type": "quantitative", "axis": null}, "y": {"field": "v", "type": "quantitative", "title": "Cumulative incidence"}}},
        {"data": {"name": "censB"}, "transform": [{"filter": "datum.g === 'k'"}], "mark": {"type": "point", "shape": "M-1,0H1M0,-1V1", "filled": false, "size": 676, "strokeWidth": 4, "color": "#0a1c1c", "opacity": 1}, "encoding": {"x": {"field": "t", "type": "quantitative", "axis": null}, "y": {"field": "v", "type": "quantitative", "title": "Cumulative incidence"}}},
        {"data": {"name": "lineB"}, "transform": [{"filter": "datum.g === 'c'"}], "mark": {"type": "line", "strokeWidth": 8, "color": "#00ffff"}, "encoding": {"x": {"field": "t", "type": "quantitative", "axis": null}, "y": {"field": "v", "type": "quantitative", "title": "Cumulative incidence"}}},
        {"data": {"name": "censB"}, "transform": [{"filter": "datum.g === 'c'"}], "mark": {"type": "point", "shape": "M-1,0H1M0,-1V1", "filled": false, "size": 676, "strokeWidth": 4, "color": "#00ffff", "opacity": 1}, "encoding": {"x": {"field": "t", "type": "quantitative", "axis": null}, "y": {"field": "v", "type": "quantitative", "title": "Cumulative incidence"}}}
      ]
    },
    {
      "width": 1522, "height": 409,
      "data": {"name": "table"},
      "transform": [{"filter": "datum.p === 'A'"}],
      "encoding": {
        "x": {"field": "t", "type": "quantitative", "scale": {"domain": [-0.67, 20], "nice": false, "zero": false}, "axis": null},
        "y": {"field": "row", "type": "nominal", "scale": {"type": "point", "domain": ["No. at risk", "r|<1.0 ng/mL", "r|1.0-3.0 ng/mL", "r|>3.0 ng/mL", "No. of events", "e|<1.0 ng/mL", "e|1.0-3.0 ng/mL", "e|>3.0 ng/mL"], "padding": 0.5}, "axis": {"title": null, "domain": false, "ticks": false, "tickSize": 0, "grid": false, "labelAlign": "left", "labelBaseline": "middle", "labelPadding": 331, "labelFontSize": 45, "labelLimit": 0, "labelColor": "black", "labelExpr": "indexof(datum.value, '|') === 1 ? '\u200b\u00a0\u00a0\u00a0' + slice(datum.value, 2) : datum.value"}},
        "text": {"field": "n", "type": "nominal"}
      },
      "layer": [
        {"transform": [{"filter": "datum.t <= 5"}], "mark": {"type": "text", "align": "right", "baseline": "middle", "dx": 54, "fontSize": 45, "color": "black"}},
        {"transform": [{"filter": "datum.t > 5"}], "mark": {"type": "text", "align": "right", "baseline": "middle", "dx": 40, "fontSize": 45, "color": "black"}}
      ]
    },
    {
      "width": 1522, "height": 409,
      "data": {"name": "table"},
      "transform": [{"filter": "datum.p === 'B'"}],
      "encoding": {
        "x": {"field": "t", "type": "quantitative", "scale": {"domain": [-0.7, 20], "nice": false, "zero": false}, "axis": null},
        "y": {"field": "row", "type": "nominal", "scale": {"type": "point", "domain": ["No. at risk", "r|<1.0 ng/mL", "r|1.0-3.0 ng/mL", "r|>3.0 ng/mL", "No. of events", "e|<1.0 ng/mL", "e|1.0-3.0 ng/mL", "e|>3.0 ng/mL"], "padding": 0.5}, "axis": {"title": null, "domain": false, "ticks": false, "tickSize": 0, "grid": false, "labelAlign": "left", "labelBaseline": "middle", "labelPadding": 333, "labelFontSize": 45, "labelLimit": 0, "labelColor": "black", "labelExpr": "indexof(datum.value, '|') === 1 ? '\u200b\u00a0\u00a0\u00a0' + slice(datum.value, 2) : datum.value"}},
        "text": {"field": "n", "type": "nominal"}
      },
      "layer": [
        {"transform": [{"filter": "datum.t <= 5"}], "mark": {"type": "text", "align": "right", "baseline": "middle", "dx": 54, "fontSize": 45, "color": "black"}},
        {"transform": [{"filter": "datum.t > 5"}], "mark": {"type": "text", "align": "right", "baseline": "middle", "dx": 40, "fontSize": 45, "color": "black"}}
      ]
    }
  ]
}
